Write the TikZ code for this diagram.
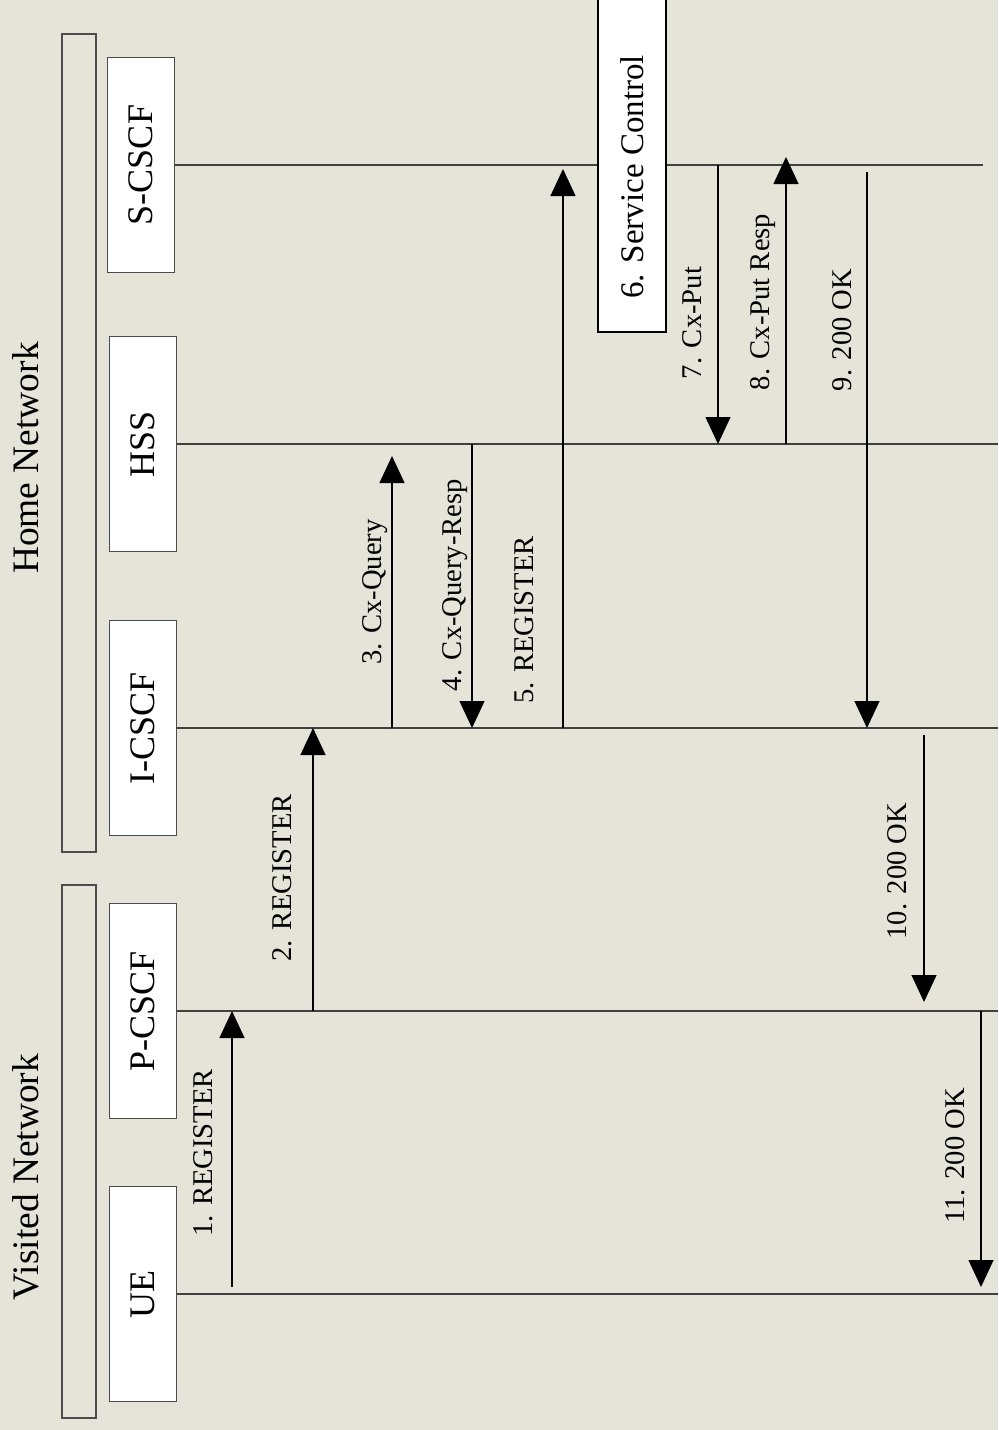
\documentclass[tikz,border=0pt]{standalone}
\usepackage{fontspec}
\setmainfont{Liberation Serif}
\usetikzlibrary{arrows.meta, calc}
\definecolor{paper}{RGB}{230,227,217}

\begin{document}
\begin{tikzpicture}[x=0.5pt, y=-0.5pt,
  entity/.style={draw=black!70, fill=white, rotate=90, minimum width=107.5pt, minimum height=33.5pt, inner sep=0pt, font=\fontsize{18}{20}\selectfont},
  netlbl/.style={rotate=90, inner sep=0pt, font=\fontsize{18.7}{21}\selectfont},
  life/.style={draw=black!75, line width=0.6pt},
  grp/.style={draw=black!70, line width=0.7pt},
  msg/.style={line width=0.6pt, -{Triangle[length=13.5pt,width=12.5pt]}},
  msglbl/.style={rotate=90, inner sep=0pt, font=\fontsize{14.3}{16}\selectfont},
  svclbl/.style={rotate=90, inner sep=0pt, font=\fontsize{16.5}{19}\selectfont}]
% Background
\fill[paper] (0,0) rectangle (998,1430);
\useasboundingbox (0,0) rectangle (998,1430);
% Networks
\draw[grp] (62,34) rectangle (96,852);
\draw[grp] (62,885) rectangle (96,1418);
\node[netlbl] (home) at (25.5,458) {Home Network};
\node[netlbl] (visited) at (25.5,1177) {Visited Network};
% Entities
\node[entity] (scscf) at (141,165) {S-CSCF};
\node[entity] (hss) at (143,444) {HSS};
\node[entity] (icscf) at (143,728) {I-CSCF};
\node[entity] (pcscf) at (143,1011) {P-CSCF};
\node[entity] (ue) at (143,1294) {UE};
% Lifelines
\draw[life] (scscf.south) -- (983,0 |- scscf.south);
\draw[life] (hss.south) -- (998,0 |- hss.south);
\draw[life] (icscf.south) -- (998,0 |- icscf.south);
\draw[life] (pcscf.south) -- (998,0 |- pcscf.south);
\draw[life] (ue.south) -- (998,0 |- ue.south);
% Messages
\draw[msg, shorten <=3.5pt] (232,0 |- ue.south) -- (232,0 |- pcscf.south);
\node[msglbl] (m1) at (203,1153) {1. REGISTER};
\draw[msg] (313,0 |- pcscf.south) -- (313,0 |- icscf.south);
\node[msglbl] (m2) at (282,878) {2. REGISTER};
\draw[msg, shorten >=6pt] (392,0 |- icscf.south) -- (392,0 |- hss.south);
\node[msglbl] (m3) at (375,592) {3. Cx-Query};
\draw[msg] (472,0 |- hss.south) -- (472,0 |- icscf.south);
\node[msglbl] (m4) at (455,585) {4. Cx-Query-Resp};
\draw[msg, shorten >=2pt] (563,0 |- icscf.south) -- (563,0 |- scscf.south);
\node[msglbl] (m5) at (524,620) {5. REGISTER};
% Service control
\draw[fill=white, line width=1pt] (598,-10) rectangle (666,332);
\node[svclbl] (svc) at (632,177) {6. Service Control};
\draw[msg] (718,0 |- scscf.south) -- (718,0 |- hss.south);
\node[msglbl] (m7) at (692,323) {7. Cx-Put};
\draw[msg, shorten >=-4pt] (786,0 |- hss.south) -- (786,0 |- scscf.south);
\node[msglbl] (m8) at (763,302) {8. Cx-Put Resp};
\draw[msg, shorten <=3.5pt] (867,0 |- scscf.south) -- (867,0 |- icscf.south);
\node[msglbl] (m9) at (842,330) {9. 200 OK};
\draw[msg, shorten <=3.5pt, shorten >=4.5pt] (924,0 |- icscf.south) -- (924,0 |- pcscf.south);
\node[msglbl] (m10) at (897,871) {10. 200 OK};
\draw[msg, shorten >=3.5pt] (981,0 |- pcscf.south) -- (981,0 |- ue.south);
\node[msglbl] (m11) at (955,1156) {11. 200 OK};
\end{tikzpicture}
\end{document}
